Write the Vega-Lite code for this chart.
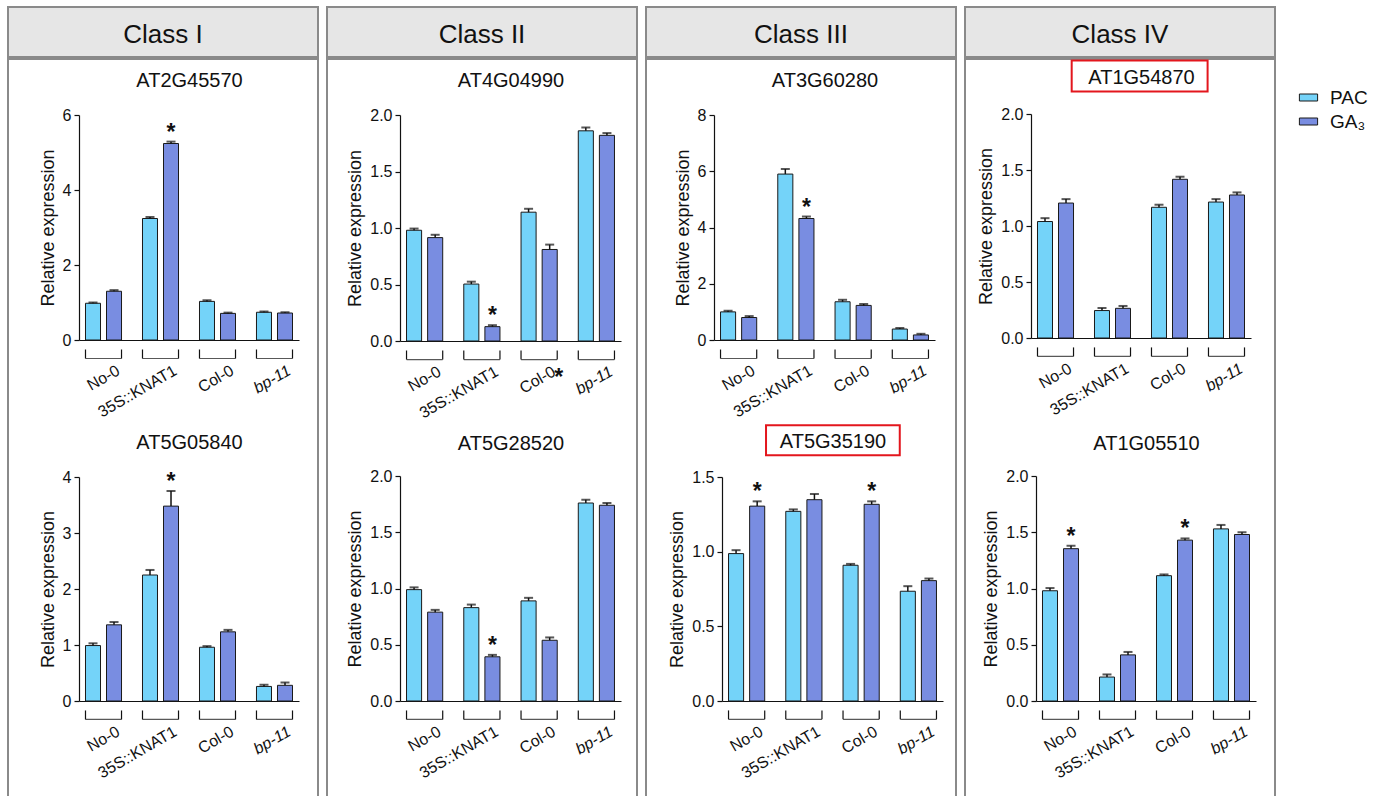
{
"$schema": "https://vega.github.io/schema/vega-lite/v6.json",
"background": "white",
"padding": {"left": 7, "top": 6, "right": 2, "bottom": 0},
"config": {
 "font": "Liberation Sans",
 "text": {"font": "Liberation Sans"},
 "axis": {"labelFont": "Liberation Sans", "titleFont": "Liberation Sans", "labelFontSize": 16, "titleFontSize": 18, "titleFontWeight": "normal", "labelColor": "#111", "titleColor": "#111", "domainColor": "#111", "tickColor": "#111", "grid": false, "tickSize": 5, "labelPadding": 3, "titlePadding": 5, "domainWidth": 1.2, "tickWidth": 1.2, "labelOverlap": false},
 "legend": {"orient": "none", "legendX": 1291, "legendY": 81, "labelFont": "Liberation Sans", "labelFontSize": 19, "labelColor": "#111", "symbolType": "M-1.3,-0.5H1.3V0.5H-1.3Z", "symbolSize": 196, "symbolStrokeColor": "#1a1a1a", "symbolStrokeWidth": 1, "labelOffset": 12, "rowPadding": 4, "padding": 0}
},
"data": {"values": [
{"g":"AT2G45570","grp":"No-0","trt":"PAC","v":0.98,"hi":1.0},
{"g":"AT2G45570","grp":"No-0","trt":"GA₃","v":1.30,"hi":1.33},
{"g":"AT2G45570","grp":"35S::KNAT1","trt":"PAC","v":3.24,"hi":3.28},
{"g":"AT2G45570","grp":"35S::KNAT1","trt":"GA₃","v":5.24,"hi":5.29,"sig":"*"},
{"g":"AT2G45570","grp":"Col-0","trt":"PAC","v":1.03,"hi":1.06},
{"g":"AT2G45570","grp":"Col-0","trt":"GA₃","v":0.71,"hi":0.73},
{"g":"AT2G45570","grp":"bp-11","trt":"PAC","v":0.74,"hi":0.76},
{"g":"AT2G45570","grp":"bp-11","trt":"GA₃","v":0.72,"hi":0.74},
{"g":"AT5G05840","grp":"No-0","trt":"PAC","v":0.99,"hi":1.03},
{"g":"AT5G05840","grp":"No-0","trt":"GA₃","v":1.36,"hi":1.41},
{"g":"AT5G05840","grp":"35S::KNAT1","trt":"PAC","v":2.25,"hi":2.34},
{"g":"AT5G05840","grp":"35S::KNAT1","trt":"GA₃","v":3.48,"hi":3.75,"sig":"*"},
{"g":"AT5G05840","grp":"Col-0","trt":"PAC","v":0.96,"hi":0.98},
{"g":"AT5G05840","grp":"Col-0","trt":"GA₃","v":1.235,"hi":1.27},
{"g":"AT5G05840","grp":"bp-11","trt":"PAC","v":0.26,"hi":0.29},
{"g":"AT5G05840","grp":"bp-11","trt":"GA₃","v":0.28,"hi":0.33},
{"g":"AT4G04990","grp":"No-0","trt":"PAC","v":0.98,"hi":0.995},
{"g":"AT4G04990","grp":"No-0","trt":"GA₃","v":0.915,"hi":0.94},
{"g":"AT4G04990","grp":"35S::KNAT1","trt":"PAC","v":0.504,"hi":0.525},
{"g":"AT4G04990","grp":"35S::KNAT1","trt":"GA₃","v":0.127,"hi":0.14,"sig":"*"},
{"g":"AT4G04990","grp":"Col-0","trt":"PAC","v":1.14,"hi":1.17},
{"g":"AT4G04990","grp":"Col-0","trt":"GA₃","v":0.81,"hi":0.853,"note":"*"},
{"g":"AT4G04990","grp":"bp-11","trt":"PAC","v":1.86,"hi":1.89},
{"g":"AT4G04990","grp":"bp-11","trt":"GA₃","v":1.82,"hi":1.84},
{"g":"AT5G28520","grp":"No-0","trt":"PAC","v":0.99,"hi":1.01},
{"g":"AT5G28520","grp":"No-0","trt":"GA₃","v":0.79,"hi":0.81},
{"g":"AT5G28520","grp":"35S::KNAT1","trt":"PAC","v":0.83,"hi":0.857},
{"g":"AT5G28520","grp":"35S::KNAT1","trt":"GA₃","v":0.393,"hi":0.41,"sig":"*"},
{"g":"AT5G28520","grp":"Col-0","trt":"PAC","v":0.89,"hi":0.917},
{"g":"AT5G28520","grp":"Col-0","trt":"GA₃","v":0.54,"hi":0.565},
{"g":"AT5G28520","grp":"bp-11","trt":"PAC","v":1.76,"hi":1.79},
{"g":"AT5G28520","grp":"bp-11","trt":"GA₃","v":1.74,"hi":1.76},
{"g":"AT3G60280","grp":"No-0","trt":"PAC","v":1.0,"hi":1.04},
{"g":"AT3G60280","grp":"No-0","trt":"GA₃","v":0.8,"hi":0.85},
{"g":"AT3G60280","grp":"35S::KNAT1","trt":"PAC","v":5.9,"hi":6.08},
{"g":"AT3G60280","grp":"35S::KNAT1","trt":"GA₃","v":4.32,"hi":4.39,"sig":"*"},
{"g":"AT3G60280","grp":"Col-0","trt":"PAC","v":1.36,"hi":1.43},
{"g":"AT3G60280","grp":"Col-0","trt":"GA₃","v":1.23,"hi":1.28},
{"g":"AT3G60280","grp":"bp-11","trt":"PAC","v":0.39,"hi":0.43},
{"g":"AT3G60280","grp":"bp-11","trt":"GA₃","v":0.18,"hi":0.22},
{"g":"AT5G35190","grp":"No-0","trt":"PAC","v":0.987,"hi":1.01},
{"g":"AT5G35190","grp":"No-0","trt":"GA₃","v":1.305,"hi":1.337,"sig":"*"},
{"g":"AT5G35190","grp":"35S::KNAT1","trt":"PAC","v":1.27,"hi":1.283},
{"g":"AT5G35190","grp":"35S::KNAT1","trt":"GA₃","v":1.348,"hi":1.386},
{"g":"AT5G35190","grp":"Col-0","trt":"PAC","v":0.909,"hi":0.918},
{"g":"AT5G35190","grp":"Col-0","trt":"GA₃","v":1.317,"hi":1.337,"sig":"*"},
{"g":"AT5G35190","grp":"bp-11","trt":"PAC","v":0.735,"hi":0.769},
{"g":"AT5G35190","grp":"bp-11","trt":"GA₃","v":0.806,"hi":0.82},
{"g":"AT1G54870","grp":"No-0","trt":"PAC","v":1.04,"hi":1.07},
{"g":"AT1G54870","grp":"No-0","trt":"GA₃","v":1.205,"hi":1.24},
{"g":"AT1G54870","grp":"35S::KNAT1","trt":"PAC","v":0.245,"hi":0.268},
{"g":"AT1G54870","grp":"35S::KNAT1","trt":"GA₃","v":0.265,"hi":0.286},
{"g":"AT1G54870","grp":"Col-0","trt":"PAC","v":1.167,"hi":1.19},
{"g":"AT1G54870","grp":"Col-0","trt":"GA₃","v":1.417,"hi":1.44},
{"g":"AT1G54870","grp":"bp-11","trt":"PAC","v":1.214,"hi":1.24},
{"g":"AT1G54870","grp":"bp-11","trt":"GA₃","v":1.277,"hi":1.30},
{"g":"AT1G05510","grp":"No-0","trt":"PAC","v":0.98,"hi":1.004},
{"g":"AT1G05510","grp":"No-0","trt":"GA₃","v":1.354,"hi":1.38,"sig":"*"},
{"g":"AT1G05510","grp":"35S::KNAT1","trt":"PAC","v":0.213,"hi":0.236},
{"g":"AT1G05510","grp":"35S::KNAT1","trt":"GA₃","v":0.41,"hi":0.436},
{"g":"AT1G05510","grp":"Col-0","trt":"PAC","v":1.114,"hi":1.125},
{"g":"AT1G05510","grp":"Col-0","trt":"GA₃","v":1.43,"hi":1.445,"sig":"*"},
{"g":"AT1G05510","grp":"bp-11","trt":"PAC","v":1.53,"hi":1.565},
{"g":"AT1G05510","grp":"bp-11","trt":"GA₃","v":1.48,"hi":1.50}
]},
"spacing": 7,
"hconcat": [
{"spacing": 0, "vconcat": [
 {"width": 310, "height": 50, "view": {"fill": "#e6e6e6", "stroke": "#8a8a8a", "strokeWidth": 2}, "data": {"values": [{"c": "Class I"}]}, "mark": {"type": "text", "fontSize": 26, "color": "#111", "baseline": "middle", "dy": 3}, "encoding": {"text": {"field": "c"}}},
 {"width": 310, "height": 745, "view": {"stroke": "#8a8a8a", "strokeWidth": 2}, "resolve": {"scale": {"x": "independent", "y": "independent", "xOffset": "independent"}}, "layer": [
  {"transform": [{"filter": "datum.g=='AT2G45570'"}], "resolve": {"axis": {"x": "independent", "y": "independent"}}, "layer": [
   {"mark": {"type": "bar", "stroke": "#1a1a1a", "strokeWidth": 1}, "encoding": {
     "x": {"field": "grp", "type": "nominal", "scale": {"domain": ["No-0","35S::KNAT1","Col-0","bp-11"], "range": [71, 291], "paddingInner": 0.368, "paddingOuter": 0.114}, "axis": {"orient": "bottom", "offset": -464, "title": null, "ticks": false, "tickSize": 0, "labelAngle": -30, "labelAlign": "right", "labelBaseline": "top", "labelPadding": 22, "labelOffset": 11, "labelFontStyle": {"condition": {"test": "datum.value=='bp-11'", "value": "italic"}, "value": "normal"}}},
     "xOffset": {"field": "trt", "type": "nominal", "scale": {"domain": ["PAC","GA₃"], "paddingInner": 0.286, "paddingOuter": 0}},
     "y": {"field": "v", "type": "quantitative", "scale": {"domain": [0, 6], "range": [281, 56], "nice": false}, "axis": {"orient": "left", "offset": -71, "values": [0,2,4,6], "title": "Relative expression"}},
     "color": {"field": "trt", "type": "nominal", "scale": {"domain": ["PAC","GA₃"], "range": ["#74d3f9","#798de1"]}, "legend": {"title": null}}}},
   {"mark": {"type": "rule", "strokeWidth": 1.5, "color": "#111"}, "encoding": {"x": {"field": "grp", "type": "nominal", "axis": null}, "xOffset": {"field": "trt", "type": "nominal"}, "y": {"field": "v", "type": "quantitative", "axis": null}, "y2": {"field": "hi"}}},
   {"mark": {"type": "tick", "orient": "horizontal", "size": 9, "thickness": 2, "color": "#111"}, "encoding": {"x": {"field": "grp", "type": "nominal", "axis": null}, "xOffset": {"field": "trt", "type": "nominal"}, "y": {"field": "hi", "type": "quantitative", "axis": null}}},
   {"transform": [{"filter": "datum.sig=='*'"}], "mark": {"type": "text", "text": "*", "fontSize": 23, "fontWeight": "bold", "dy": -2, "baseline": "alphabetic", "color": "#111"}, "encoding": {"x": {"field": "grp", "type": "nominal", "axis": null}, "xOffset": {"field": "trt", "type": "nominal"}, "y": {"field": "hi", "type": "quantitative", "axis": null}}},
   {"transform": [{"filter": "datum.trt=='PAC'"}], "mark": {"type": "tick", "orient": "horizontal", "size": 36, "thickness": 1.2, "color": "#111"}, "encoding": {"x": {"field": "grp", "type": "nominal", "axis": {"orient": "top", "title": "AT2G45570", "labels": false, "ticks": false, "domain": false, "offset": -31, "titlePadding": 0, "minExtent": 0, "maxExtent": 0, "titleFontSize": 20}}, "y": {"datum": -0.493, "axis": null}}},
   {"transform": [{"filter": "datum.trt=='PAC'"}], "mark": {"type": "rule", "strokeWidth": 1.2, "color": "#111"}, "encoding": {"x": {"field": "grp", "type": "nominal", "bandPosition": 0, "axis": null}, "y": {"datum": -0.253, "axis": null}, "y2": {"datum": -0.493}}},
   {"transform": [{"filter": "datum.trt=='PAC'"}], "mark": {"type": "rule", "strokeWidth": 1.2, "color": "#111"}, "encoding": {"x": {"field": "grp", "type": "nominal", "bandPosition": 1, "axis": null}, "y": {"datum": -0.253, "axis": null}, "y2": {"datum": -0.493}}}
  ]},
  {"transform": [{"filter": "datum.g=='AT5G05840'"}], "resolve": {"axis": {"x": "independent", "y": "independent"}}, "layer": [
   {"mark": {"type": "bar", "stroke": "#1a1a1a", "strokeWidth": 1}, "encoding": {
     "x": {"field": "grp", "type": "nominal", "scale": {"domain": ["No-0","35S::KNAT1","Col-0","bp-11"], "range": [71, 291], "paddingInner": 0.368, "paddingOuter": 0.114}, "axis": {"orient": "bottom", "offset": -103, "title": null, "ticks": false, "tickSize": 0, "labelAngle": -30, "labelAlign": "right", "labelBaseline": "top", "labelPadding": 22, "labelOffset": 11, "labelFontStyle": {"condition": {"test": "datum.value=='bp-11'", "value": "italic"}, "value": "normal"}}},
     "xOffset": {"field": "trt", "type": "nominal", "scale": {"domain": ["PAC","GA₃"], "paddingInner": 0.286, "paddingOuter": 0}},
     "y": {"field": "v", "type": "quantitative", "scale": {"domain": [0, 4], "range": [642, 418], "nice": false}, "axis": {"orient": "left", "offset": -71, "values": [0,1,2,3,4], "title": "Relative expression"}},
     "color": {"field": "trt", "type": "nominal", "scale": {"domain": ["PAC","GA₃"], "range": ["#74d3f9","#798de1"]}, "legend": {"title": null}}}},
   {"mark": {"type": "rule", "strokeWidth": 1.5, "color": "#111"}, "encoding": {"x": {"field": "grp", "type": "nominal", "axis": null}, "xOffset": {"field": "trt", "type": "nominal"}, "y": {"field": "v", "type": "quantitative", "axis": null}, "y2": {"field": "hi"}}},
   {"mark": {"type": "tick", "orient": "horizontal", "size": 9, "thickness": 2, "color": "#111"}, "encoding": {"x": {"field": "grp", "type": "nominal", "axis": null}, "xOffset": {"field": "trt", "type": "nominal"}, "y": {"field": "hi", "type": "quantitative", "axis": null}}},
   {"transform": [{"filter": "datum.sig=='*'"}], "mark": {"type": "text", "text": "*", "fontSize": 23, "fontWeight": "bold", "dy": -2, "baseline": "alphabetic", "color": "#111"}, "encoding": {"x": {"field": "grp", "type": "nominal", "axis": null}, "xOffset": {"field": "trt", "type": "nominal"}, "y": {"field": "hi", "type": "quantitative", "axis": null}}},
   {"transform": [{"filter": "datum.trt=='PAC'"}], "mark": {"type": "tick", "orient": "horizontal", "size": 36, "thickness": 1.2, "color": "#111"}, "encoding": {"x": {"field": "grp", "type": "nominal", "axis": {"orient": "top", "title": "AT5G05840", "labels": false, "ticks": false, "domain": false, "offset": -393, "titlePadding": 0, "minExtent": 0, "maxExtent": 0, "titleFontSize": 20}}, "y": {"datum": -0.329, "axis": null}}},
   {"transform": [{"filter": "datum.trt=='PAC'"}], "mark": {"type": "rule", "strokeWidth": 1.2, "color": "#111"}, "encoding": {"x": {"field": "grp", "type": "nominal", "bandPosition": 0, "axis": null}, "y": {"datum": -0.169, "axis": null}, "y2": {"datum": -0.329}}},
   {"transform": [{"filter": "datum.trt=='PAC'"}], "mark": {"type": "rule", "strokeWidth": 1.2, "color": "#111"}, "encoding": {"x": {"field": "grp", "type": "nominal", "bandPosition": 1, "axis": null}, "y": {"datum": -0.169, "axis": null}, "y2": {"datum": -0.329}}}
  ]}
 ]}
]},
{"spacing": 0, "vconcat": [
 {"width": 310, "height": 50, "view": {"fill": "#e6e6e6", "stroke": "#8a8a8a", "strokeWidth": 2}, "data": {"values": [{"c": "Class II"}]}, "mark": {"type": "text", "fontSize": 26, "color": "#111", "baseline": "middle", "dy": 3}, "encoding": {"text": {"field": "c"}}},
 {"width": 310, "height": 745, "view": {"stroke": "#8a8a8a", "strokeWidth": 2}, "resolve": {"scale": {"x": "independent", "y": "independent", "xOffset": "independent"}}, "layer": [
  {"transform": [{"filter": "datum.g=='AT4G04990'"}], "resolve": {"axis": {"x": "independent", "y": "independent"}}, "layer": [
   {"mark": {"type": "bar", "stroke": "#1a1a1a", "strokeWidth": 1}, "encoding": {
     "x": {"field": "grp", "type": "nominal", "scale": {"domain": ["No-0","35S::KNAT1","Col-0","bp-11"], "range": [73, 294], "paddingInner": 0.368, "paddingOuter": 0.114}, "axis": {"orient": "bottom", "offset": -463, "title": null, "ticks": false, "tickSize": 0, "labelAngle": -30, "labelAlign": "right", "labelBaseline": "top", "labelPadding": 22, "labelOffset": 11, "labelFontStyle": {"condition": {"test": "datum.value=='bp-11'", "value": "italic"}, "value": "normal"}}},
     "xOffset": {"field": "trt", "type": "nominal", "scale": {"domain": ["PAC","GA₃"], "paddingInner": 0.286, "paddingOuter": 0}},
     "y": {"field": "v", "type": "quantitative", "scale": {"domain": [0, 2], "range": [282, 56], "nice": false}, "axis": {"orient": "left", "offset": -73, "values": [0,0.5,1,1.5,2], "format": ".1f", "title": "Relative expression"}},
     "color": {"field": "trt", "type": "nominal", "scale": {"domain": ["PAC","GA₃"], "range": ["#74d3f9","#798de1"]}, "legend": {"title": null}}}},
   {"mark": {"type": "rule", "strokeWidth": 1.5, "color": "#111"}, "encoding": {"x": {"field": "grp", "type": "nominal", "axis": null}, "xOffset": {"field": "trt", "type": "nominal"}, "y": {"field": "v", "type": "quantitative", "axis": null}, "y2": {"field": "hi"}}},
   {"mark": {"type": "tick", "orient": "horizontal", "size": 9, "thickness": 2, "color": "#111"}, "encoding": {"x": {"field": "grp", "type": "nominal", "axis": null}, "xOffset": {"field": "trt", "type": "nominal"}, "y": {"field": "hi", "type": "quantitative", "axis": null}}},
   {"transform": [{"filter": "datum.sig=='*'"}], "mark": {"type": "text", "text": "*", "fontSize": 23, "fontWeight": "bold", "dy": -2, "baseline": "alphabetic", "color": "#111"}, "encoding": {"x": {"field": "grp", "type": "nominal", "axis": null}, "xOffset": {"field": "trt", "type": "nominal"}, "y": {"field": "hi", "type": "quantitative", "axis": null}}},
   {"transform": [{"filter": "datum.note=='*'"}], "mark": {"type": "text", "text": "*", "fontSize": 23, "fontWeight": "bold", "dx": 9, "baseline": "alphabetic", "color": "#111"}, "encoding": {"x": {"field": "grp", "type": "nominal", "axis": null}, "xOffset": {"field": "trt", "type": "nominal"}, "y": {"datum": -0.39, "axis": null}}},
   {"transform": [{"filter": "datum.trt=='PAC'"}], "mark": {"type": "tick", "orient": "horizontal", "size": 36, "thickness": 1.2, "color": "#111"}, "encoding": {"x": {"field": "grp", "type": "nominal", "axis": {"orient": "top", "title": "AT4G04990", "labels": false, "ticks": false, "domain": false, "offset": -31, "titlePadding": 0, "minExtent": 0, "maxExtent": 0, "titleFontSize": 20}}, "y": {"datum": -0.164, "axis": null}}},
   {"transform": [{"filter": "datum.trt=='PAC'"}], "mark": {"type": "rule", "strokeWidth": 1.2, "color": "#111"}, "encoding": {"x": {"field": "grp", "type": "nominal", "bandPosition": 0, "axis": null}, "y": {"datum": -0.084, "axis": null}, "y2": {"datum": -0.164}}},
   {"transform": [{"filter": "datum.trt=='PAC'"}], "mark": {"type": "rule", "strokeWidth": 1.2, "color": "#111"}, "encoding": {"x": {"field": "grp", "type": "nominal", "bandPosition": 1, "axis": null}, "y": {"datum": -0.084, "axis": null}, "y2": {"datum": -0.164}}}
  ]},
  {"transform": [{"filter": "datum.g=='AT5G28520'"}], "resolve": {"axis": {"x": "independent", "y": "independent"}}, "layer": [
   {"mark": {"type": "bar", "stroke": "#1a1a1a", "strokeWidth": 1}, "encoding": {
     "x": {"field": "grp", "type": "nominal", "scale": {"domain": ["No-0","35S::KNAT1","Col-0","bp-11"], "range": [73, 294], "paddingInner": 0.368, "paddingOuter": 0.114}, "axis": {"orient": "bottom", "offset": -103, "title": null, "ticks": false, "tickSize": 0, "labelAngle": -30, "labelAlign": "right", "labelBaseline": "top", "labelPadding": 22, "labelOffset": 11, "labelFontStyle": {"condition": {"test": "datum.value=='bp-11'", "value": "italic"}, "value": "normal"}}},
     "xOffset": {"field": "trt", "type": "nominal", "scale": {"domain": ["PAC","GA₃"], "paddingInner": 0.286, "paddingOuter": 0}},
     "y": {"field": "v", "type": "quantitative", "scale": {"domain": [0, 2], "range": [642, 417], "nice": false}, "axis": {"orient": "left", "offset": -73, "values": [0,0.5,1,1.5,2], "format": ".1f", "title": "Relative expression"}},
     "color": {"field": "trt", "type": "nominal", "scale": {"domain": ["PAC","GA₃"], "range": ["#74d3f9","#798de1"]}, "legend": {"title": null}}}},
   {"mark": {"type": "rule", "strokeWidth": 1.5, "color": "#111"}, "encoding": {"x": {"field": "grp", "type": "nominal", "axis": null}, "xOffset": {"field": "trt", "type": "nominal"}, "y": {"field": "v", "type": "quantitative", "axis": null}, "y2": {"field": "hi"}}},
   {"mark": {"type": "tick", "orient": "horizontal", "size": 9, "thickness": 2, "color": "#111"}, "encoding": {"x": {"field": "grp", "type": "nominal", "axis": null}, "xOffset": {"field": "trt", "type": "nominal"}, "y": {"field": "hi", "type": "quantitative", "axis": null}}},
   {"transform": [{"filter": "datum.sig=='*'"}], "mark": {"type": "text", "text": "*", "fontSize": 23, "fontWeight": "bold", "dy": -2, "baseline": "alphabetic", "color": "#111"}, "encoding": {"x": {"field": "grp", "type": "nominal", "axis": null}, "xOffset": {"field": "trt", "type": "nominal"}, "y": {"field": "hi", "type": "quantitative", "axis": null}}},
   {"transform": [{"filter": "datum.trt=='PAC'"}], "mark": {"type": "tick", "orient": "horizontal", "size": 36, "thickness": 1.2, "color": "#111"}, "encoding": {"x": {"field": "grp", "type": "nominal", "axis": {"orient": "top", "title": "AT5G28520", "labels": false, "ticks": false, "domain": false, "offset": -394, "titlePadding": 0, "minExtent": 0, "maxExtent": 0, "titleFontSize": 20}}, "y": {"datum": -0.164, "axis": null}}},
   {"transform": [{"filter": "datum.trt=='PAC'"}], "mark": {"type": "rule", "strokeWidth": 1.2, "color": "#111"}, "encoding": {"x": {"field": "grp", "type": "nominal", "bandPosition": 0, "axis": null}, "y": {"datum": -0.084, "axis": null}, "y2": {"datum": -0.164}}},
   {"transform": [{"filter": "datum.trt=='PAC'"}], "mark": {"type": "rule", "strokeWidth": 1.2, "color": "#111"}, "encoding": {"x": {"field": "grp", "type": "nominal", "bandPosition": 1, "axis": null}, "y": {"datum": -0.084, "axis": null}, "y2": {"datum": -0.164}}}
  ]}
 ]}
]},
{"spacing": 0, "vconcat": [
 {"width": 310, "height": 50, "view": {"fill": "#e6e6e6", "stroke": "#8a8a8a", "strokeWidth": 2}, "data": {"values": [{"c": "Class III"}]}, "mark": {"type": "text", "fontSize": 26, "color": "#111", "baseline": "middle", "dy": 3}, "encoding": {"text": {"field": "c"}}},
 {"width": 310, "height": 745, "view": {"stroke": "#8a8a8a", "strokeWidth": 2}, "resolve": {"scale": {"x": "independent", "y": "independent", "xOffset": "independent"}}, "layer": [
  {"transform": [{"filter": "datum.g=='AT3G60280'"}], "resolve": {"axis": {"x": "independent", "y": "independent"}}, "layer": [
   {"mark": {"type": "bar", "stroke": "#1a1a1a", "strokeWidth": 1}, "encoding": {
     "x": {"field": "grp", "type": "nominal", "scale": {"domain": ["No-0","35S::KNAT1","Col-0","bp-11"], "range": [68, 289], "paddingInner": 0.368, "paddingOuter": 0.114}, "axis": {"orient": "bottom", "offset": -464, "title": null, "ticks": false, "tickSize": 0, "labelAngle": -30, "labelAlign": "right", "labelBaseline": "top", "labelPadding": 22, "labelOffset": 11, "labelFontStyle": {"condition": {"test": "datum.value=='bp-11'", "value": "italic"}, "value": "normal"}}},
     "xOffset": {"field": "trt", "type": "nominal", "scale": {"domain": ["PAC","GA₃"], "paddingInner": 0.286, "paddingOuter": 0}},
     "y": {"field": "v", "type": "quantitative", "scale": {"domain": [0, 8], "range": [281, 56], "nice": false}, "axis": {"orient": "left", "offset": -68, "values": [0,2,4,6,8], "title": "Relative expression"}},
     "color": {"field": "trt", "type": "nominal", "scale": {"domain": ["PAC","GA₃"], "range": ["#74d3f9","#798de1"]}, "legend": {"title": null}}}},
   {"mark": {"type": "rule", "strokeWidth": 1.5, "color": "#111"}, "encoding": {"x": {"field": "grp", "type": "nominal", "axis": null}, "xOffset": {"field": "trt", "type": "nominal"}, "y": {"field": "v", "type": "quantitative", "axis": null}, "y2": {"field": "hi"}}},
   {"mark": {"type": "tick", "orient": "horizontal", "size": 9, "thickness": 2, "color": "#111"}, "encoding": {"x": {"field": "grp", "type": "nominal", "axis": null}, "xOffset": {"field": "trt", "type": "nominal"}, "y": {"field": "hi", "type": "quantitative", "axis": null}}},
   {"transform": [{"filter": "datum.sig=='*'"}], "mark": {"type": "text", "text": "*", "fontSize": 23, "fontWeight": "bold", "dy": -2, "baseline": "alphabetic", "color": "#111"}, "encoding": {"x": {"field": "grp", "type": "nominal", "axis": null}, "xOffset": {"field": "trt", "type": "nominal"}, "y": {"field": "hi", "type": "quantitative", "axis": null}}},
   {"transform": [{"filter": "datum.trt=='PAC'"}], "mark": {"type": "tick", "orient": "horizontal", "size": 36, "thickness": 1.2, "color": "#111"}, "encoding": {"x": {"field": "grp", "type": "nominal", "axis": {"orient": "top", "title": "AT3G60280", "labels": false, "ticks": false, "domain": false, "offset": -31, "titlePadding": 0, "minExtent": 0, "maxExtent": 0, "titleFontSize": 20}}, "y": {"datum": -0.658, "axis": null}}},
   {"transform": [{"filter": "datum.trt=='PAC'"}], "mark": {"type": "rule", "strokeWidth": 1.2, "color": "#111"}, "encoding": {"x": {"field": "grp", "type": "nominal", "bandPosition": 0, "axis": null}, "y": {"datum": -0.338, "axis": null}, "y2": {"datum": -0.658}}},
   {"transform": [{"filter": "datum.trt=='PAC'"}], "mark": {"type": "rule", "strokeWidth": 1.2, "color": "#111"}, "encoding": {"x": {"field": "grp", "type": "nominal", "bandPosition": 1, "axis": null}, "y": {"datum": -0.338, "axis": null}, "y2": {"datum": -0.658}}}
  ]},
  {"transform": [{"filter": "datum.g=='AT5G35190'"}], "resolve": {"axis": {"x": "independent", "y": "independent"}}, "layer": [
   {"mark": {"type": "bar", "stroke": "#1a1a1a", "strokeWidth": 1}, "encoding": {
     "x": {"field": "grp", "type": "nominal", "scale": {"domain": ["No-0","35S::KNAT1","Col-0","bp-11"], "range": [76, 297], "paddingInner": 0.368, "paddingOuter": 0.114}, "axis": {"orient": "bottom", "offset": -103, "title": null, "ticks": false, "tickSize": 0, "labelAngle": -30, "labelAlign": "right", "labelBaseline": "top", "labelPadding": 22, "labelOffset": 11, "labelFontStyle": {"condition": {"test": "datum.value=='bp-11'", "value": "italic"}, "value": "normal"}}},
     "xOffset": {"field": "trt", "type": "nominal", "scale": {"domain": ["PAC","GA₃"], "paddingInner": 0.286, "paddingOuter": 0}},
     "y": {"field": "v", "type": "quantitative", "scale": {"domain": [0, 1.5], "range": [642, 418], "nice": false}, "axis": {"orient": "left", "offset": -76, "values": [0,0.5,1,1.5], "format": ".1f", "title": "Relative expression"}},
     "color": {"field": "trt", "type": "nominal", "scale": {"domain": ["PAC","GA₃"], "range": ["#74d3f9","#798de1"]}, "legend": {"title": null}}}},
   {"mark": {"type": "rule", "strokeWidth": 1.5, "color": "#111"}, "encoding": {"x": {"field": "grp", "type": "nominal", "axis": null}, "xOffset": {"field": "trt", "type": "nominal"}, "y": {"field": "v", "type": "quantitative", "axis": null}, "y2": {"field": "hi"}}},
   {"mark": {"type": "tick", "orient": "horizontal", "size": 9, "thickness": 2, "color": "#111"}, "encoding": {"x": {"field": "grp", "type": "nominal", "axis": null}, "xOffset": {"field": "trt", "type": "nominal"}, "y": {"field": "hi", "type": "quantitative", "axis": null}}},
   {"transform": [{"filter": "datum.sig=='*'"}], "mark": {"type": "text", "text": "*", "fontSize": 23, "fontWeight": "bold", "dy": -2, "baseline": "alphabetic", "color": "#111"}, "encoding": {"x": {"field": "grp", "type": "nominal", "axis": null}, "xOffset": {"field": "trt", "type": "nominal"}, "y": {"field": "hi", "type": "quantitative", "axis": null}}},
   {"transform": [{"filter": "datum.trt=='PAC' && datum.grp=='No-0'"}], "mark": {"type": "rect", "filled": false, "stroke": "#e3161d", "strokeWidth": 2}, "encoding": {"x": {"datum": "35S::KNAT1", "bandPosition": -0.546, "axis": null}, "x2": {"datum": "35S::KNAT1", "bandPosition": 3.15}, "y": {"datum": 1.846, "axis": null}, "y2": {"datum": 1.645}}},
   {"transform": [{"filter": "datum.trt=='PAC'"}], "mark": {"type": "tick", "orient": "horizontal", "size": 36, "thickness": 1.2, "color": "#111"}, "encoding": {"x": {"field": "grp", "type": "nominal", "axis": {"orient": "top", "title": "AT5G35190", "labels": false, "ticks": false, "domain": false, "offset": -392, "titlePadding": 0, "minExtent": 0, "maxExtent": 0, "titleFontSize": 20}}, "y": {"datum": -0.123, "axis": null}}},
   {"transform": [{"filter": "datum.trt=='PAC'"}], "mark": {"type": "rule", "strokeWidth": 1.2, "color": "#111"}, "encoding": {"x": {"field": "grp", "type": "nominal", "bandPosition": 0, "axis": null}, "y": {"datum": -0.063, "axis": null}, "y2": {"datum": -0.123}}},
   {"transform": [{"filter": "datum.trt=='PAC'"}], "mark": {"type": "rule", "strokeWidth": 1.2, "color": "#111"}, "encoding": {"x": {"field": "grp", "type": "nominal", "bandPosition": 1, "axis": null}, "y": {"datum": -0.063, "axis": null}, "y2": {"datum": -0.123}}}
  ]}
 ]}
]},
{"spacing": 0, "vconcat": [
 {"width": 310, "height": 50, "view": {"fill": "#e6e6e6", "stroke": "#8a8a8a", "strokeWidth": 2}, "data": {"values": [{"c": "Class IV"}]}, "mark": {"type": "text", "fontSize": 26, "color": "#111", "baseline": "middle", "dy": 3}, "encoding": {"text": {"field": "c"}}},
 {"width": 310, "height": 745, "view": {"stroke": "#8a8a8a", "strokeWidth": 2}, "resolve": {"scale": {"x": "independent", "y": "independent", "xOffset": "independent"}}, "layer": [
  {"transform": [{"filter": "datum.g=='AT1G54870'"}], "resolve": {"axis": {"x": "independent", "y": "independent"}}, "layer": [
   {"mark": {"type": "bar", "stroke": "#1a1a1a", "strokeWidth": 1}, "encoding": {
     "x": {"field": "grp", "type": "nominal", "scale": {"domain": ["No-0","35S::KNAT1","Col-0","bp-11"], "range": [66, 286], "paddingInner": 0.368, "paddingOuter": 0.114}, "axis": {"orient": "bottom", "offset": -466, "title": null, "ticks": false, "tickSize": 0, "labelAngle": -30, "labelAlign": "right", "labelBaseline": "top", "labelPadding": 22, "labelOffset": 11, "labelFontStyle": {"condition": {"test": "datum.value=='bp-11'", "value": "italic"}, "value": "normal"}}},
     "xOffset": {"field": "trt", "type": "nominal", "scale": {"domain": ["PAC","GA₃"], "paddingInner": 0.286, "paddingOuter": 0}},
     "y": {"field": "v", "type": "quantitative", "scale": {"domain": [0, 2], "range": [279, 55], "nice": false}, "axis": {"orient": "left", "offset": -66, "values": [0,0.5,1,1.5,2], "format": ".1f", "title": "Relative expression"}},
     "color": {"field": "trt", "type": "nominal", "scale": {"domain": ["PAC","GA₃"], "range": ["#74d3f9","#798de1"]}, "legend": {"title": null}}}},
   {"mark": {"type": "rule", "strokeWidth": 1.5, "color": "#111"}, "encoding": {"x": {"field": "grp", "type": "nominal", "axis": null}, "xOffset": {"field": "trt", "type": "nominal"}, "y": {"field": "v", "type": "quantitative", "axis": null}, "y2": {"field": "hi"}}},
   {"mark": {"type": "tick", "orient": "horizontal", "size": 9, "thickness": 2, "color": "#111"}, "encoding": {"x": {"field": "grp", "type": "nominal", "axis": null}, "xOffset": {"field": "trt", "type": "nominal"}, "y": {"field": "hi", "type": "quantitative", "axis": null}}},
   {"transform": [{"filter": "datum.trt=='PAC' && datum.grp=='No-0'"}], "mark": {"type": "rect", "filled": false, "stroke": "#e3161d", "strokeWidth": 2}, "encoding": {"x": {"datum": "35S::KNAT1", "bandPosition": -0.633, "axis": null}, "x2": {"datum": "35S::KNAT1", "bandPosition": 3.14}, "y": {"datum": 2.477, "axis": null}, "y2": {"datum": 2.2}}},
   {"transform": [{"filter": "datum.trt=='PAC'"}], "mark": {"type": "tick", "orient": "horizontal", "size": 36, "thickness": 1.2, "color": "#111"}, "encoding": {"x": {"field": "grp", "type": "nominal", "axis": {"orient": "top", "title": "AT1G54870", "labels": false, "ticks": false, "domain": false, "offset": -28.4, "titlePadding": 0, "minExtent": 0, "maxExtent": 0, "titleFontSize": 20}}, "y": {"datum": -0.164, "axis": null}}},
   {"transform": [{"filter": "datum.trt=='PAC'"}], "mark": {"type": "rule", "strokeWidth": 1.2, "color": "#111"}, "encoding": {"x": {"field": "grp", "type": "nominal", "bandPosition": 0, "axis": null}, "y": {"datum": -0.084, "axis": null}, "y2": {"datum": -0.164}}},
   {"transform": [{"filter": "datum.trt=='PAC'"}], "mark": {"type": "rule", "strokeWidth": 1.2, "color": "#111"}, "encoding": {"x": {"field": "grp", "type": "nominal", "bandPosition": 1, "axis": null}, "y": {"datum": -0.084, "axis": null}, "y2": {"datum": -0.164}}}
  ]},
  {"transform": [{"filter": "datum.g=='AT1G05510'"}], "resolve": {"axis": {"x": "independent", "y": "independent"}}, "layer": [
   {"mark": {"type": "bar", "stroke": "#1a1a1a", "strokeWidth": 1}, "encoding": {
     "x": {"field": "grp", "type": "nominal", "scale": {"domain": ["No-0","35S::KNAT1","Col-0","bp-11"], "range": [71, 291], "paddingInner": 0.368, "paddingOuter": 0.114}, "axis": {"orient": "bottom", "offset": -103, "title": null, "ticks": false, "tickSize": 0, "labelAngle": -30, "labelAlign": "right", "labelBaseline": "top", "labelPadding": 22, "labelOffset": 11, "labelFontStyle": {"condition": {"test": "datum.value=='bp-11'", "value": "italic"}, "value": "normal"}}},
     "xOffset": {"field": "trt", "type": "nominal", "scale": {"domain": ["PAC","GA₃"], "paddingInner": 0.286, "paddingOuter": 0}},
     "y": {"field": "v", "type": "quantitative", "scale": {"domain": [0, 2], "range": [642, 417], "nice": false}, "axis": {"orient": "left", "offset": -71, "values": [0,0.5,1,1.5,2], "format": ".1f", "title": "Relative expression"}},
     "color": {"field": "trt", "type": "nominal", "scale": {"domain": ["PAC","GA₃"], "range": ["#74d3f9","#798de1"]}, "legend": {"title": null}}}},
   {"mark": {"type": "rule", "strokeWidth": 1.5, "color": "#111"}, "encoding": {"x": {"field": "grp", "type": "nominal", "axis": null}, "xOffset": {"field": "trt", "type": "nominal"}, "y": {"field": "v", "type": "quantitative", "axis": null}, "y2": {"field": "hi"}}},
   {"mark": {"type": "tick", "orient": "horizontal", "size": 9, "thickness": 2, "color": "#111"}, "encoding": {"x": {"field": "grp", "type": "nominal", "axis": null}, "xOffset": {"field": "trt", "type": "nominal"}, "y": {"field": "hi", "type": "quantitative", "axis": null}}},
   {"transform": [{"filter": "datum.sig=='*'"}], "mark": {"type": "text", "text": "*", "fontSize": 23, "fontWeight": "bold", "dy": -2, "baseline": "alphabetic", "color": "#111"}, "encoding": {"x": {"field": "grp", "type": "nominal", "axis": null}, "xOffset": {"field": "trt", "type": "nominal"}, "y": {"field": "hi", "type": "quantitative", "axis": null}}},
   {"transform": [{"filter": "datum.trt=='PAC'"}], "mark": {"type": "tick", "orient": "horizontal", "size": 36, "thickness": 1.2, "color": "#111"}, "encoding": {"x": {"field": "grp", "type": "nominal", "axis": {"orient": "top", "title": "AT1G05510", "labels": false, "ticks": false, "domain": false, "offset": -394, "titlePadding": 0, "minExtent": 0, "maxExtent": 0, "titleFontSize": 20}}, "y": {"datum": -0.164, "axis": null}}},
   {"transform": [{"filter": "datum.trt=='PAC'"}], "mark": {"type": "rule", "strokeWidth": 1.2, "color": "#111"}, "encoding": {"x": {"field": "grp", "type": "nominal", "bandPosition": 0, "axis": null}, "y": {"datum": -0.084, "axis": null}, "y2": {"datum": -0.164}}},
   {"transform": [{"filter": "datum.trt=='PAC'"}], "mark": {"type": "rule", "strokeWidth": 1.2, "color": "#111"}, "encoding": {"x": {"field": "grp", "type": "nominal", "bandPosition": 1, "axis": null}, "y": {"datum": -0.084, "axis": null}, "y2": {"datum": -0.164}}}
  ]}
 ]}
]}
]
}
